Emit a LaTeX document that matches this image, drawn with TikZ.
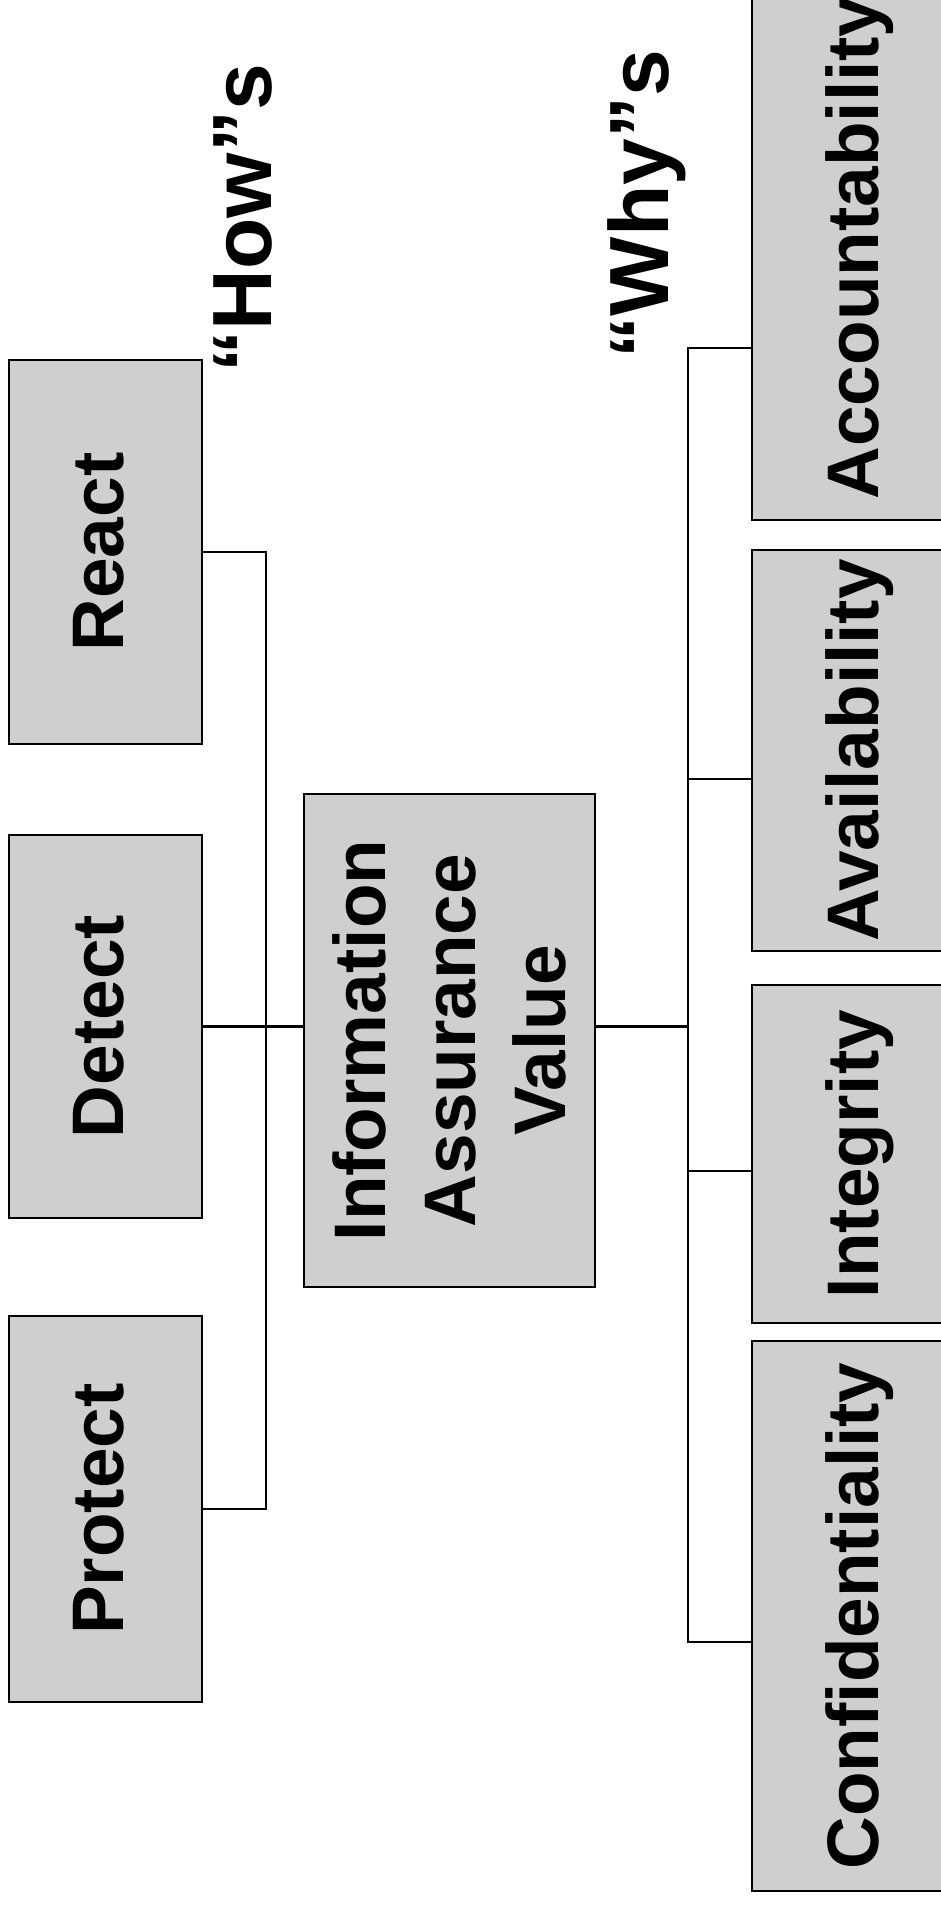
\documentclass[tikz,border=0pt]{standalone}
\usepackage{fontspec}
\setmainfont{Liberation Sans}
\begin{document}
\begin{tikzpicture}[x=1pt,y=-1pt,
  box/.style={draw=black, line width=2.5pt, fill=black!19, inner sep=0pt, rotate=90,
              font=\fontsize{73}{90}\selectfont\bfseries},
  onebox/.style={box, text height=52.5pt, text depth=17.5pt},
  conn/.style={line width=2.3pt, line cap=rect},
  quotelbl/.style={rotate=90, anchor=base, inner sep=0pt,
              font=\fontsize{84}{100}\selectfont\bfseries}]
\path[use as bounding box] (0,0) rectangle (941,1906);
\clip (0,0) rectangle (941,1906);

% "How"s column
\node[onebox, minimum width=384pt, minimum height=193pt] (react) at (105.5,552) {React};
\node[onebox, minimum width=383pt, minimum height=193pt] (detect) at (105.5,1026.5) {Detect};
\node[onebox, minimum width=386pt, minimum height=193pt] (protect) at (105.5,1509) {Protect};

% centre
\node[box, align=center, minimum width=493pt, minimum height=291pt] (ia) at (449.5,1040.5)
  {Information\\Assurance\\Value};

% "Why"s column
\node[onebox, minimum width=544pt, minimum height=217pt] (acc) at (860.5,248) {Accountability};
\node[onebox, minimum width=401pt, minimum height=217pt] (avail) at (860.5,750.5) {Availability};
\node[onebox, minimum width=338pt, minimum height=217pt] (integ) at (860.5,1154) {Integrity};
\node[onebox, minimum width=550pt, minimum height=217pt] (conf) at (860.5,1616) {Confidentiality};

% labels
\node[quotelbl] (how) at (271.7,218) {“How”s};
\node[quotelbl] (why) at (668,204) {“Why”s};

% left connectors
\coordinate (busL) at (266,0);
\draw[conn] (react.south) -- (react.south -| busL);
\draw[conn] (protect.south) -- (protect.south -| busL);
\draw[conn] (react.south -| busL) -- (protect.south -| busL);
\draw[conn] (detect.south) -- (detect.south -| ia.north);

% right connectors
\coordinate (iaout) at (ia.south |- detect.south);
\coordinate (busR) at (688,0);
\coordinate (tAcc) at (688,348);
\coordinate (tAv) at (688,779);
\coordinate (tIn) at (688,1171);
\coordinate (tCo) at (688,1642);
\draw[conn] (iaout) -- (iaout -| busR);
\draw[conn] (tAcc) -- (tCo);
\draw[conn] (tAcc) -- (tAcc -| acc.north);
\draw[conn] (tAv) -- (tAv -| avail.north);
\draw[conn] (tIn) -- (tIn -| integ.north);
\draw[conn] (tCo) -- (tCo -| conf.north);
\end{tikzpicture}
\end{document}
